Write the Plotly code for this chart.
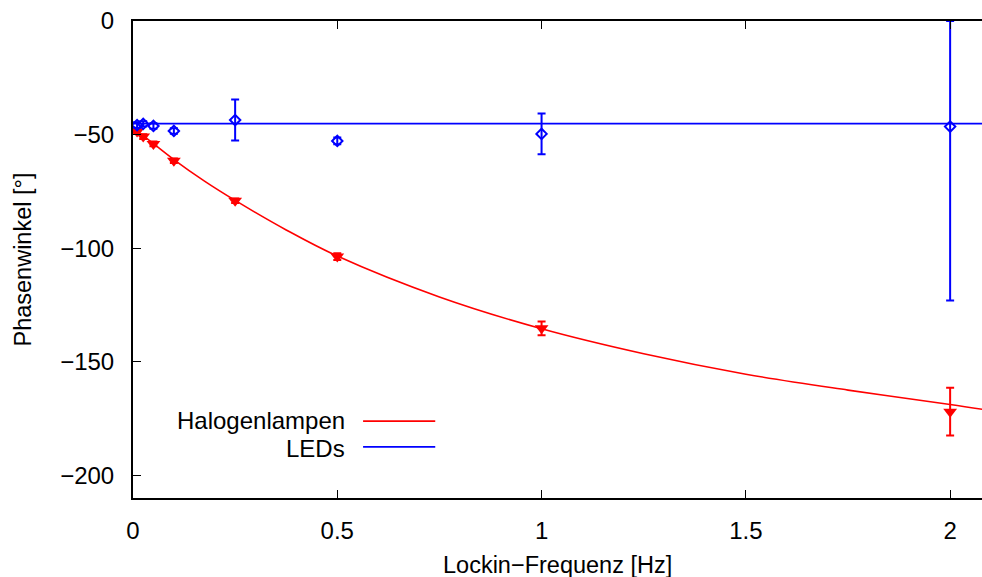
import plotly.graph_objects as go

# ---- data ----
freq = [0.01, 0.025, 0.05, 0.1, 0.25, 0.5, 1.0, 2.0]

halogen_phase = [-48.7, -50.9, -54.1, -61.5, -79.1, -103.7, -135.3, -172.0]
halogen_err = [1.0, 1.0, 1.0, 1.0, 1.0, 1.5, 3.0, 10.5]

led_phase = [-45.8, -45.3, -46.2, -48.4, -43.6, -52.8, -49.7, -46.5]
led_err_plus = [1.2, 1.2, 1.2, 1.2, 9.0, 1.5, 9.0, 46.5]
led_err_minus = [1.2, 1.2, 1.2, 1.2, 9.0, 1.5, 9.0, 76.5]

# fit curves
fit_x = [0.0, 0.025, 0.05, 0.1, 0.175, 0.25, 0.375, 0.5, 0.75, 1.0, 1.25, 1.5, 1.75, 2.0, 2.08]
halogen_fit = [-47.5, -50.5, -54.0, -61.0, -70.5, -79.0, -92.0, -103.5, -121.5, -135.5,
               -146.5, -155.5, -162.5, -168.8, -171.0]
led_fit_x = [0.0, 2.08]
led_fit = [-45.2, -45.2]

x_ticks = [0, 0.5, 1, 1.5, 2]
x_ticktext = ["0", "0.5", "1", "1.5", "2"]
y_ticks = [0, -50, -100, -150, -200]

RED = "#ff0000"
BLUE = "#0000ff"
FONT = "Liberation Sans, Arial, sans-serif"
TICK_SIZE = 24
TITLE_SIZE = 23.5
KEY_SIZE = 24

fig = go.Figure()

fig.add_trace(go.Scatter(
    x=fit_x, y=halogen_fit, mode="lines", name="Halogenlampen",
    line=dict(color=RED, width=1.6, shape="spline"), showlegend=False))
fig.add_trace(go.Scatter(
    x=led_fit_x, y=led_fit, mode="lines", name="LEDs",
    line=dict(color=BLUE, width=1.8), showlegend=False))

fig.add_trace(go.Scatter(
    x=freq, y=halogen_phase, mode="markers",
    marker=dict(symbol="triangle-down", size=12, color=RED),
    error_y=dict(type="data", array=halogen_err, visible=True,
                 color=RED, thickness=2, width=4),
    showlegend=False))
fig.add_trace(go.Scatter(
    x=freq, y=led_phase, mode="markers",
    marker=dict(symbol="diamond-open", size=8, color=BLUE, line=dict(width=2, color=BLUE)),
    error_y=dict(type="data", symmetric=False, array=led_err_plus,
                 arrayminus=led_err_minus, visible=True,
                 color=BLUE, thickness=2, width=4),
    showlegend=False))

# gnuplot-style key: right-aligned text, line sample to the right
key_items = [("Halogenlampen", RED, 0.1635, 0.161), ("LEDs", BLUE, 0.1048, 0.107)]
for label, col, ytext, yline in key_items:
    fig.add_annotation(x=0.251, y=ytext, xref="paper", yref="paper", text=label,
                       showarrow=False, xanchor="right", yanchor="middle",
                       borderpad=0,
                       font=dict(family=FONT, size=KEY_SIZE, color="black"))
    fig.add_shape(type="line", xref="paper", yref="paper",
                  x0=0.271, x1=0.356, y0=yline, y1=yline,
                  line=dict(color=col, width=1.8))

# axis titles placed like the gnuplot output
fig.add_annotation(x=-0.1307, y=0.5, xref="paper", yref="paper",
                   text="Phasenwinkel [°]", textangle=-90, showarrow=False,
                   xanchor="center", yanchor="middle",
                   font=dict(family=FONT, size=TITLE_SIZE, color="black"))
fig.add_annotation(x=0.5, y=-0.1405, xref="paper", yref="paper",
                   text="Lockin\u2212Frequenz [Hz]", showarrow=False,
                   xanchor="center", yanchor="middle",
                   font=dict(family=FONT, size=TITLE_SIZE, color="black"))

fig.update_layout(
    width=982, height=577,
    margin=dict(l=133, r=0, t=21, b=79),
    paper_bgcolor="white", plot_bgcolor="white",
    font=dict(family=FONT, size=TICK_SIZE, color="black"),
    showlegend=False,
    xaxis=dict(
        range=[0, 2.078], tickvals=x_ticks, ticktext=x_ticktext,
        ticks="inside", ticklen=8, tickwidth=1, tickcolor="black",
        showline=True, linecolor="black", linewidth=2, mirror="ticks",
        showgrid=False, zeroline=False, ticklabelstandoff=10,
        tickfont=dict(family=FONT, size=TICK_SIZE),
    ),
    yaxis=dict(
        range=[-210, 0], tickvals=y_ticks,
        ticks="inside", ticklen=8, tickwidth=1, tickcolor="black",
        showline=True, linecolor="black", linewidth=2, mirror=False,
        showgrid=False, zeroline=False, ticklabelstandoff=12,
        tickfont=dict(family=FONT, size=TICK_SIZE),
    ),
)

fig.write_html("out.html")
